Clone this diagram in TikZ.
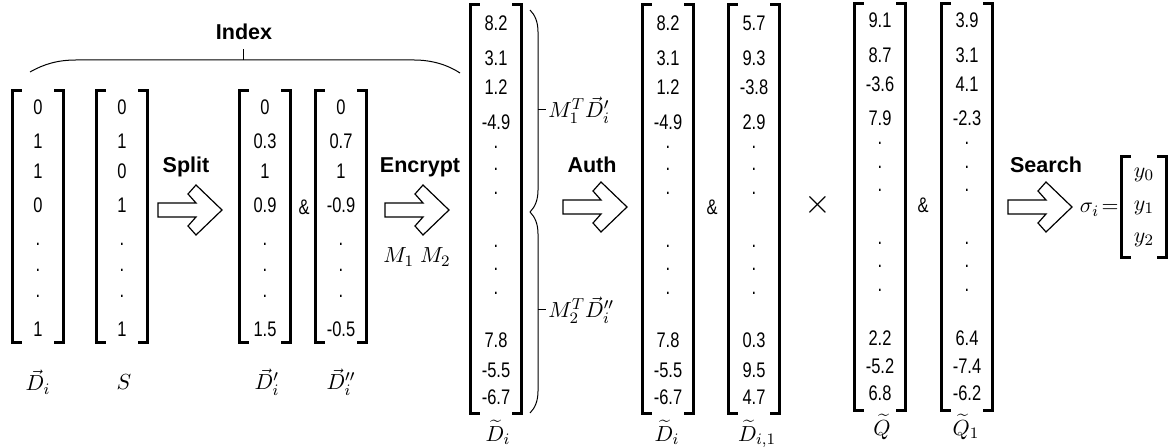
\documentclass[tikz,border=0pt]{standalone}
\usepackage{fontspec}
\usepackage{graphicx}
\newfontfamily\arialfont{Liberation Sans}
\newcommand\nar[1]{\scalebox{0.78}[1]{#1}}

\begin{document}
\begin{tikzpicture}[x=0.5bp, y=-0.5bp, line join=miter,
    brk/.style={line width=1.6bp},
    vecbox/.style={inner sep=0pt},
    num/.style={inner sep=0pt, font=\arialfont\fontsize{10.6}{12}\selectfont},
    op/.style={inner sep=0pt, anchor=base, font=\arialfont\bfseries\fontsize{10.8}{12}\selectfont},
    lbl/.style={inner sep=1bp, font=\fontsize{10.95}{13}\selectfont},
    brace/.style={line width=0.5bp},
    fatarrow/.pic={\draw[line width=0.6bp] (0,-7) -- (38,-7) -- (30,-16) -- (38,-25) -- (64,0)
        -- (38,25) -- (30,16) -- (38,7) -- (0,7) -- cycle;}]
  \useasboundingbox (0,0) rectangle (1174,447);

  % Column vectors with their brackets
  \foreach \nm/\cx/\t/\b/\w in {Di/38/91/342/25, S/122/91/342/25, Dp/265/91/342/25, Dpp/341/91/342/25,
      Ce/496/5/413/25, Ca/668/5/413/25, Cb/754/5/413/25, Q/880/4/410/25, Qa/967/4/410/25, Sg/1144/157/257/22} {
    \node[vecbox, minimum width={\w*1bp}, minimum height={(\b-\t)*0.5bp}] (\nm) at (\cx,{(\t+\b)/2}) {};
    \draw[brk] ([xshift=4.5bp]\nm.north west) -- (\nm.north west) -- (\nm.south west) -- ([xshift=4.5bp]\nm.south west);
    \draw[brk] ([xshift=-4.5bp]\nm.north east) -- (\nm.north east) -- (\nm.south east) -- ([xshift=-4.5bp]\nm.south east);
  }

  % Entries: D_i, S, D'_i, D''_i
  \foreach \a/\b/\c/\d/\y [count=\k] in {0/0/0/0/107, 1/1/0.3/0.7/141, 1/0/1/1/171, 0/1/0.9/-0.9/205,
      ././././244, ././././270, ././././296, 1/1/1.5/-0.5/329} {
    \node[num] (Di-\k) at (Di |- 0,\y) {\nar{\a}};
    \node[num] (S-\k) at (S |- 0,\y) {\nar{\b}};
    \node[num] (Dp-\k) at (Dp |- 0,\y) {\nar{\c}};
    \node[num] (Dpp-\k) at (Dpp |- 0,\y) {\nar{\d}};
  }

  % Entries: encrypted vectors
  \foreach \a/\b/\c/\y [count=\k] in {8.2/8.2/5.7/23, 3.1/3.1/9.3/58, 1.2/1.2/-3.8/87, -4.9/-4.9/2.9/122,
      ./././147, ./././169, ./././193, ./././246, ./././269, ./././293,
      7.8/7.8/0.3/340, -5.5/-5.5/9.5/370, -6.7/-6.7/4.7/397} {
    \node[num] (Ce-\k) at (Ce |- 0,\y) {\nar{\a}};
    \node[num] (Ca-\k) at (Ca |- 0,\y) {\nar{\b}};
    \node[num] (Cb-\k) at (Cb |- 0,\y) {\nar{\c}};
  }

  % Entries: trapdoor
  \foreach \a/\b/\y [count=\k] in {9.1/3.9/20, 8.7/3.1/55, -3.6/4.1/84, 7.9/-2.3/118,
      ././143, ././167, ././190, ././243, ././266, ././290, 2.2/6.4/338, -5.2/-7.4/366, 6.8/-6.2/393} {
    \node[num] (Q-\k) at (Q |- 0,\y) {\nar{\a}};
    \node[num] (Qa-\k) at (Qa |- 0,\y) {\nar{\b}};
  }

  % Result vector
  \foreach \y [count=\k from 0] in {175,208,240}
    \node[lbl] (Sg-\k) at (Sg |- 0,\y) {$y_{\k}$};
  \node[lbl, anchor=base east] (sigma) at (1121,213) {$\sigma_i\!=$};

  % Names under the vectors
  \node[lbl] (Di-l) at (38,382) {$\vec{D}_i$};
  \node[lbl] (S-l) at (124,382) {$S$};
  \node[lbl] (Dp-l) at (267,382) {$\vec{D}'_i$};
  \node[lbl] (Dpp-l) at (341,382) {$\vec{D}''_i$};
  \node[lbl, anchor=north] (Ce-l) at (498,418) {$\widetilde{D}_i$};
  \node[lbl, anchor=north] (Ca-l) at (667,418) {$\widetilde{D}_i$};
  \node[lbl, anchor=north] (Cb-l) at (757,418) {$\widetilde{D}_{i,1}$};
  \node[lbl, anchor=north] (Q-l) at (882,412) {$\widetilde{Q}$};
  \node[lbl, anchor=north] (Qa-l) at (966,412) {$\widetilde{Q}_1$};

  % Signs between vectors
  \node[num] (and1) at (304,207) {\nar{\&}};
  \node[num] (and2) at (712,207) {\nar{\&}};
  \node[num] (and3) at (923,205) {\nar{\&}};
  \node[inner sep=0pt] (times) at (818,205) {\LARGE$\times$};

  % Steps
  \node[op] (split) at (186,173) {Split};
  \node[op] (encrypt) at (420,173) {Encrypt};
  \node[op] (auth) at (592,173) {Auth};
  \node[op] (search) at (1046,173) {Search};
  \node[lbl, anchor=base] (keys) at (417,263) {$M_1\;M_2$};
  \pic at (158,210) {fatarrow};
  \pic at (385,210) {fatarrow};
  \pic at (563,207) {fatarrow};
  \pic at (1008,207) {fatarrow};

  % Index brace
  \node[op] (index) at (244,39.5) {Index};
  \coordinate (idx) at (243,60);
  \draw[brace] (30,72) .. controls (44,64) and (58,60) .. (76,60) -- (414,60)
      .. controls (432,60) and (448,65) .. (460,73);
  \draw[brace] (idx) -- ++(0,-11);

  % Halves of the encrypted vector
  \node[lbl, anchor=west] (half1) at (546,110) {$M_1^T\vec{D}'_i$};
  \node[lbl, anchor=west] (half2) at (546,310) {$M_2^T\vec{D}''_i$};
  \draw[brace] (530,10) .. controls (535,15) and (538,22) .. (538,32) -- (538,190)
      .. controls (538,200) and (535,207) .. (530,212);
  \draw[brace] (530,212) .. controls (535,217) and (538,224) .. (538,234) -- (538,391)
      .. controls (538,401) and (535,408) .. (530,413);
  \draw[brace] (538,110) -- (half1.west);
  \draw[brace] (538,310) -- (half2.west);
\end{tikzpicture}
\end{document}
